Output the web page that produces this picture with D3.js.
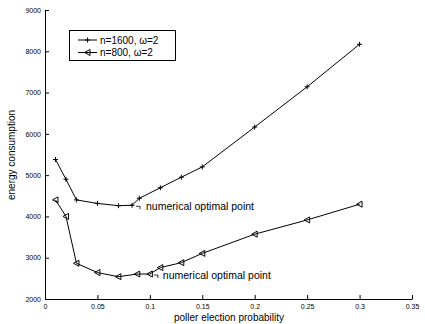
<!DOCTYPE html>
<html><head><meta charset="utf-8">
<script src="https://cdn.jsdelivr.net/npm/d3@7"></script>
<style>body{margin:0;background:#fff}svg{display:block}text{font-family:"Liberation Sans",Arial,sans-serif}</style>
</head><body><svg id="c" width="425" height="324"></svg>
<script>
const xA = [0.01,0.02,0.03,0.05,0.07,0.083,0.09,0.11,0.13,0.15,0.2,0.25,0.3];
const yA = [5380,4900,4400,4315,4260,4270,4440,4695,4950,5200,6165,7140,8170];
const xB = [0.01,0.02,0.03,0.05,0.07,0.088,0.1,0.11,0.13,0.15,0.2,0.25,0.3];
const yB = [4400,4000,2865,2640,2540,2605,2605,2760,2880,3105,3570,3915,4295];
const seriesNames = ["n=1600, \u03c9=2","n=800, \u03c9=2"];
const xTicks = [0,0.05,0.1,0.15,0.2,0.25,0.3,0.35];
const yTicks = [2000,3000,4000,5000,6000,7000,8000,9000];
const annText = "numerical optimal point";

const svg = d3.select("#c");
const x = d3.scaleLinear().domain([0,0.35]).range([45,412]);
const y = d3.scaleLinear().domain([2000,9000]).range([299,10]);

const xAxis = svg.append("g").attr("transform","translate(0,299)")
  .call(d3.axisBottom(x).tickValues(xTicks).tickFormat(d=>d===0?"0":String(+d.toFixed(2))).tickSizeInner(-4).tickSizeOuter(0).tickPadding(5));
const yAxis = svg.append("g").attr("transform","translate(45,0)")
  .call(d3.axisLeft(y).tickValues(yTicks).tickFormat(d3.format("d")).tickSizeInner(-4).tickSizeOuter(0).tickPadding(4));
[xAxis,yAxis].forEach(g=>{
  g.select(".domain").attr("stroke","#000").attr("stroke-width",1);
  g.selectAll(".tick line").attr("stroke","#000");
  g.selectAll("text").attr("font-size",7).attr("fill","#000").attr("font-family","Liberation Sans, Arial, sans-serif");
});
xAxis.selectAll("text").attr("dy","0.71em");

svg.append("text").attr("x",229).attr("y",321).attr("text-anchor","middle").attr("font-size",10).text("poller election probability");
svg.append("text").attr("transform","translate(15,155) rotate(-90)").attr("text-anchor","middle").attr("font-size",10).text("energy consumption");

const line = d3.line().x(d=>x(d[0])).y(d=>y(d[1]));
const dA = xA.map((v,i)=>[v,yA[i]]);
const dB = xB.map((v,i)=>[v,yB[i]]);
svg.append("path").datum(dA).attr("d",line).attr("fill","none").attr("stroke","#000").attr("stroke-width",1);
svg.append("path").datum(dB).attr("d",line).attr("fill","none").attr("stroke","#000").attr("stroke-width",1);

function plus(g,cx,cy){
  g.append("path").attr("d",`M${cx-2.5},${cy}H${cx+2.5}M${cx},${cy-2.5}V${cy+2.5}`).attr("stroke","#000").attr("stroke-width",1).attr("fill","none");
}
function tri(g,cx,cy){
  g.append("path").attr("d",`M${cx-3},${cy}L${cx+2.5},${cy-3}L${cx+2.5},${cy+3}Z`).attr("stroke","#000").attr("stroke-width",1).attr("fill","none");
}
const mA = svg.append("g"); dA.forEach(d=>plus(mA,x(d[0]),y(d[1])));
const mB = svg.append("g"); dB.forEach(d=>tri(mB,x(d[0]),y(d[1])));

// annotations
function ann(px,py,dx,dy){
  const cx = x(px), cy = y(py);
  svg.append("path").attr("d",`M${cx+4},${cy+1}H${cx+8}V${cy+4}`).attr("stroke","#000").attr("stroke-width",0.8).attr("fill","none");
  svg.append("text").attr("x",cx+dx).attr("y",cy+dy).attr("font-size",10.5).text(annText);
}
ann(xA[5],yA[5],14,5);
ann(xB[6],yB[6],13,5);

// legend
const lg = svg.append("g");
lg.append("rect").attr("x",69.5).attr("y",30.5).attr("width",106).attr("height",30).attr("fill","#fff").attr("stroke","#000").attr("stroke-width",1);
[40,52.5].forEach((ly,i)=>{
  lg.append("line").attr("x1",78).attr("x2",97).attr("y1",ly).attr("y2",ly).attr("stroke","#000");
  if(i===0) plus(lg,87.5,ly); else tri(lg,87.5,ly);
  lg.append("text").attr("x",100).attr("y",ly+3.5).attr("font-size",10).text(seriesNames[i]);
});
</script></body></html>
